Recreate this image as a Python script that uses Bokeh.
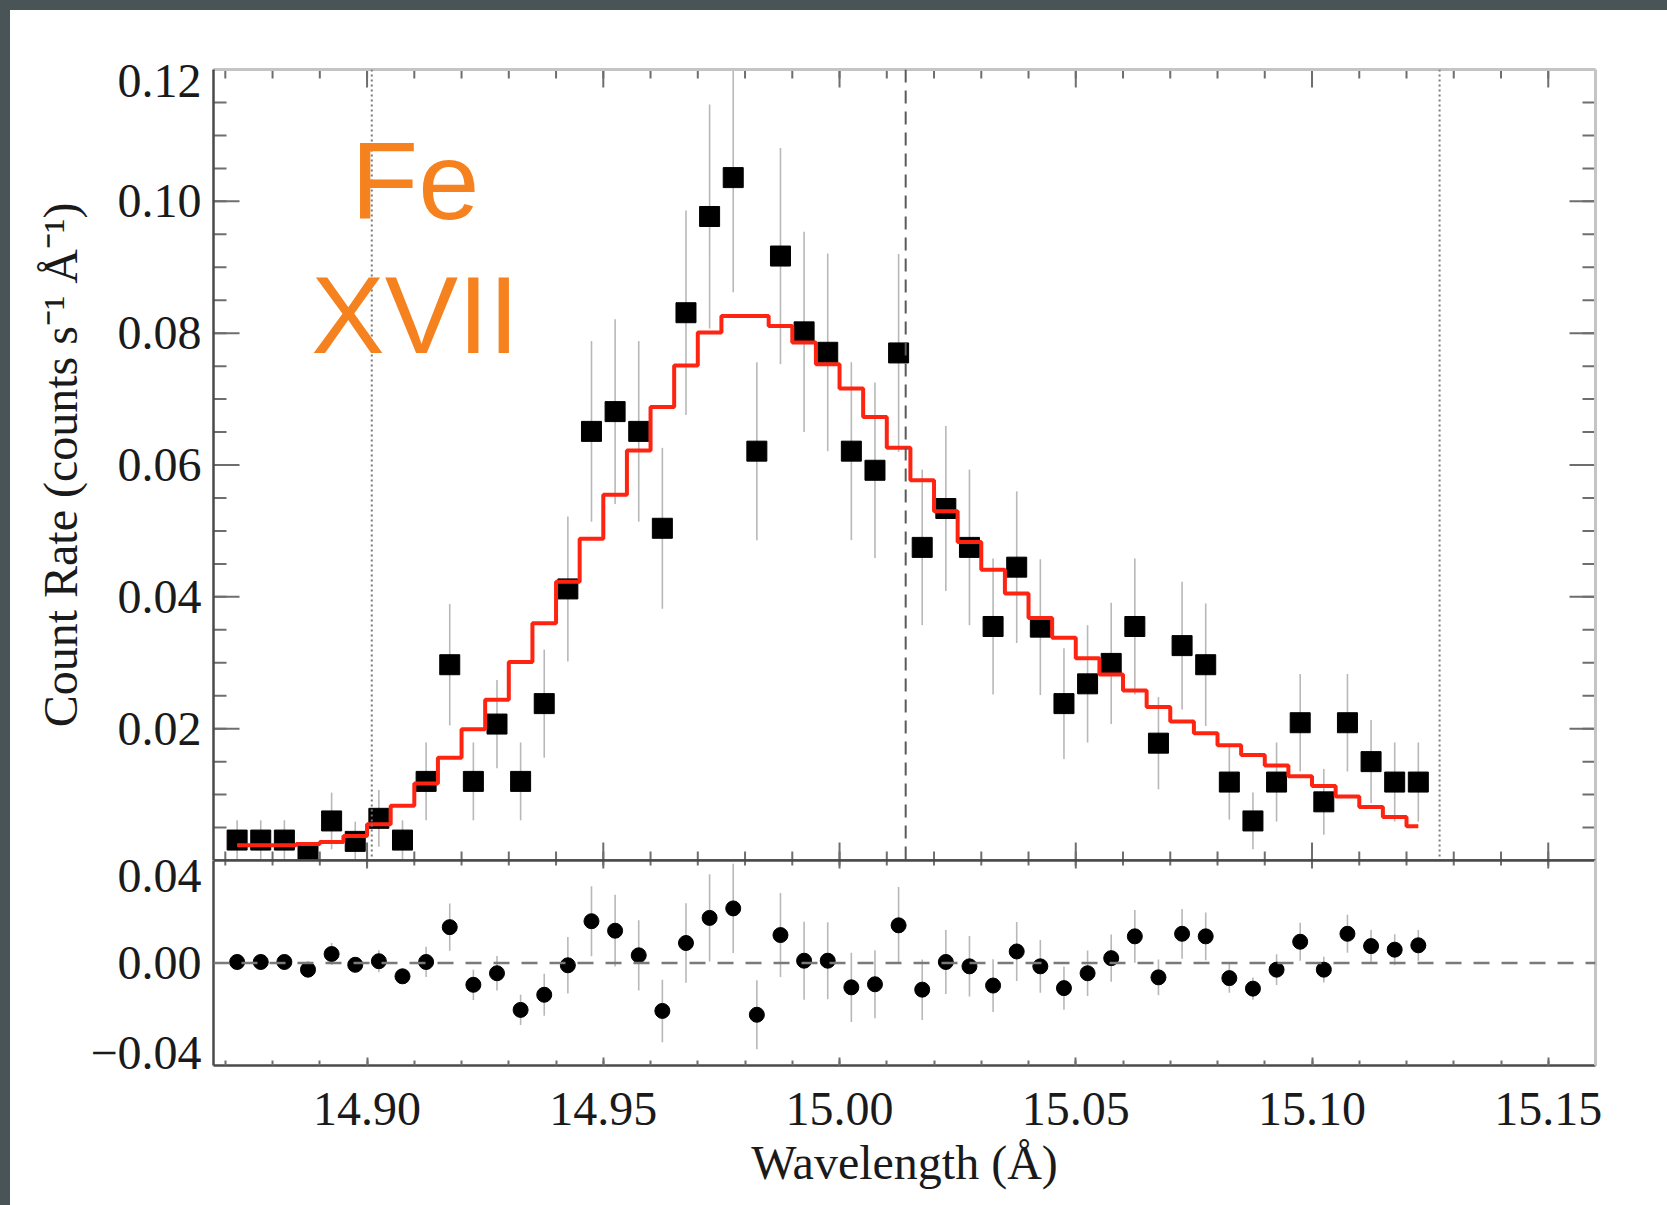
from bokeh.plotting import figure
from bokeh.models import Range1d, LinearAxis, FixedTicker, Span, Label, PrintfTickFormatter
from bokeh.layouts import column
from bokeh.embed import file_html
from bokeh.resources import INLINE

# ---------------- data ----------------
wavelength = [14.8725, 14.8775, 14.8825, 14.8875, 14.8925, 14.8975, 14.9025, 14.9075,
              14.9125, 14.9175, 14.9225, 14.9275, 14.9325, 14.9375, 14.9425, 14.9475,
              14.9525, 14.9575, 14.9625, 14.9675, 14.9725, 14.9775, 14.9825, 14.9875,
              14.9925, 14.9975, 15.0025, 15.0075, 15.0125, 15.0175, 15.0225, 15.0275,
              15.0325, 15.0375, 15.0425, 15.0475, 15.0525, 15.0575, 15.0625, 15.0675,
              15.0725, 15.0775, 15.0825, 15.0875, 15.0925, 15.0975, 15.1025, 15.1075,
              15.1125, 15.1175, 15.1225]

count_rate = [0.0031, 0.0031, 0.0031, 0.0010, 0.0060, 0.0029, 0.0064, 0.0031, 0.0120, 0.0297,
              0.0120, 0.0207, 0.0120, 0.0238, 0.0412, 0.0651, 0.0681, 0.0651, 0.0504, 0.0831,
              0.0977, 0.1036, 0.0621, 0.0917, 0.0802, 0.0771, 0.0621, 0.0592, 0.0770, 0.0475,
              0.0534, 0.0475, 0.0355, 0.0445, 0.0354, 0.0238, 0.0268, 0.0299, 0.0355, 0.0178,
              0.0326, 0.0297, 0.0119, 0.0060, 0.0119, 0.0209, 0.0089, 0.0209, 0.0150, 0.0119,
              0.0119]

count_err = [0.0030, 0.0030, 0.0030, 0.0018, 0.0043, 0.0030, 0.0043, 0.0030, 0.0059, 0.0092,
             0.0059, 0.0067, 0.0059, 0.0082, 0.0110, 0.0137, 0.0140, 0.0137, 0.0122, 0.0155,
             0.0170, 0.0174, 0.0135, 0.0164, 0.0152, 0.0150, 0.0135, 0.0133, 0.0150, 0.0118,
             0.0125, 0.0118, 0.0103, 0.0115, 0.0103, 0.0084, 0.0089, 0.0092, 0.0103, 0.0070,
             0.0097, 0.0093, 0.0057, 0.0043, 0.0060, 0.0074, 0.0050, 0.0074, 0.0063, 0.0060,
             0.0060]

model_rate = [0.0023, 0.0023, 0.0023, 0.0025, 0.0028, 0.0037, 0.0055, 0.0083, 0.0117, 0.0156,
              0.0199, 0.0244, 0.0301, 0.0360, 0.0423, 0.0488, 0.0555, 0.0622, 0.0688, 0.0751,
              0.0801, 0.0826, 0.0826, 0.0811, 0.0786, 0.0753, 0.0716, 0.0673, 0.0626, 0.0577,
              0.0530, 0.0483, 0.0441, 0.0405, 0.0368, 0.0338, 0.0307, 0.0282, 0.0258, 0.0233,
              0.0211, 0.0193, 0.0175, 0.0160, 0.0144, 0.0128, 0.0113, 0.0097, 0.0081, 0.0066,
              0.0052]

residual = [0.0004, 0.0004, 0.0004, -0.0026, 0.0035, -0.0007, 0.0007, -0.0052, 0.0004, 0.0140,
            -0.0085, -0.0040, -0.0183, -0.0124, -0.0009, 0.0163, 0.0126, 0.0030, -0.0187, 0.0078,
            0.0176, 0.0213, -0.0202, 0.0109, 0.0009, 0.0009, -0.0095, -0.0083, 0.0147, -0.0104,
            0.0004, -0.0013, -0.0088, 0.0045, -0.0013, -0.0098, -0.0040, 0.0019, 0.0104, -0.0056,
            0.0114, 0.0104, -0.0059, -0.0100, -0.0026, 0.0083, -0.0026, 0.0114, 0.0066, 0.0052,
            0.0069]

residual_err = count_err

line_rest = 15.014               # dashed line
window_edges = [14.901, 15.127]  # dotted lines

x_limits = (14.8675, 15.160)
rate_limits = (0.0, 0.12)
resid_limits = (-0.04, 0.04)

x_major = [14.90, 14.95, 15.00, 15.05, 15.10, 15.15]
x_minor = [round(14.87 + 0.01 * i, 2) for i in range(30)]
rate_major = [0.02, 0.04, 0.06, 0.08, 0.10]
rate_minor = [round(0.005 * i, 3) for i in range(1, 24)]
rate_top_label = "0.12"
resid_labels = ["\u22120.04", "0.00", "0.04"]

# ---------------- styling ----------------
SERIF = "Liberation Serif"
TICK_FS = "48px"
TXT = "#1a1a1a"
DARK = "#4a4a4a"
LIGHT = "#c4c4c4"
TICKC = "#6e6e6e"
UP_FRAME_H = 791
LO_FRAME_H = 205
OVERLAP = 22               # lower canvas reaches this far over the upper one (transparent)
TOP_LAB_INSET = 12         # px the extreme labels sit inside the frame, as in the original
RES_LAB_INSET_TOP = 16
RES_LAB_INSET_BOT = 12

rate_lo = [v - e for v, e in zip(count_rate, count_err)]
rate_hi = [v + e for v, e in zip(count_rate, count_err)]
res_lo = [v - e for v, e in zip(residual, residual_err)]
res_hi = [v + e for v, e in zip(residual, residual_err)]


def line_axis(color, width):
    """An axis that only draws its line (no ticks, no labels)."""
    return LinearAxis(ticker=FixedTicker(ticks=[], minor_ticks=[]),
                      axis_line_color=color, axis_line_width=width,
                      major_tick_line_color=None, minor_tick_line_color=None)


def tick_rays(p, pos, at, length, angle, vertical_ticks):
    if vertical_ticks:
        xs, ys = pos, [at] * len(pos)
    else:
        xs, ys = [at] * len(pos), pos
    p.ray(x=xs, y=ys, length=length, angle=angle, angle_units="deg",
          length_units="screen", line_color=TICKC, line_width=2)


# ---------------- upper panel ----------------
p1 = figure(width=1657, height=850, x_range=Range1d(*x_limits), y_range=Range1d(*rate_limits),
            output_backend="svg", toolbar_location=None,
            x_axis_location=None, y_axis_location=None,
            min_border_left=203, min_border_right=72, min_border_top=59, min_border_bottom=0,
            background_fill_color="white", border_fill_color="white", outline_line_color=None)
p1.grid.visible = False

span_rate = rate_limits[1] - rate_limits[0]
top_lab_pos = round(rate_limits[1] - TOP_LAB_INSET / UP_FRAME_H * span_rate, 4)
left1 = LinearAxis(ticker=FixedTicker(ticks=rate_major + [top_lab_pos], minor_ticks=[]),
                   formatter=PrintfTickFormatter(format="%.2f"),
                   major_label_overrides={top_lab_pos: rate_top_label},
                   major_tick_in=0, major_tick_out=0,
                   major_tick_line_color=None, minor_tick_line_color=None,
                   axis_line_color=DARK, axis_line_width=2.5,
                   major_label_text_font=SERIF, major_label_text_font_size=TICK_FS,
                   major_label_text_color=TXT, major_label_standoff=12,
                   axis_label="Count Rate (counts s\u207b\u00b9 \u00c5\u207b\u00b9)",
                   axis_label_text_font=SERIF, axis_label_text_font_size="48px",
                   axis_label_text_font_style="normal", axis_label_text_color=TXT,
                   axis_label_standoff=28)
p1.add_layout(left1, "left")
p1.add_layout(line_axis(LIGHT, 3), "right")
p1.add_layout(line_axis(LIGHT, 3), "above")
p1.add_layout(line_axis(DARK, 2.5), "below")

# inward ticks on all four sides
tick_rays(p1, x_major, rate_limits[1], 18, -90, True)
tick_rays(p1, x_minor, rate_limits[1], 9, -90, True)
tick_rays(p1, x_major, rate_limits[0], 18, 90, True)
tick_rays(p1, x_minor, rate_limits[0], 9, 90, True)
tick_rays(p1, rate_major, x_limits[1], 26, 180, False)
tick_rays(p1, rate_minor, x_limits[1], 13, 180, False)
tick_rays(p1, rate_major, x_limits[0], 26, 0, False)
tick_rays(p1, rate_minor, x_limits[0], 13, 0, False)

for loc in window_edges:
    p1.add_layout(Span(location=loc, dimension="height", line_color="#7a7a7a",
                       line_width=2, line_dash="2 3"))
p1.add_layout(Span(location=line_rest, dimension="height", line_color="#5a5a5a",
                   line_width=2, line_dash="13 8"))

p1.segment(x0=wavelength, y0=rate_lo, x1=wavelength, y1=rate_hi,
           line_color="#b8b8b8", line_width=1.6)
p1.scatter(wavelength, count_rate, marker="square", size=20, fill_color="black", line_color="black")
p1.step(wavelength, model_rate, mode="center", line_color="#ff2412", line_width=4)

p1.add_layout(Label(x=14.9102, y=0.1031, text="Fe", text_align="center", text_baseline="alphabetic",
                    text_font="Liberation Sans", text_font_size="110px", text_color="#f5821f"))
p1.add_layout(Label(x=14.9102, y=0.0829, text="XVII", text_align="center", text_baseline="alphabetic",
                    text_font="Liberation Sans", text_font_size="110px", text_color="#f5821f"))

# ---------------- lower panel ----------------
p2 = figure(width=1657, height=345 + OVERLAP, x_range=p1.x_range, y_range=Range1d(*resid_limits),
            output_backend="svg", toolbar_location=None,
            x_axis_location=None, y_axis_location=None,
            min_border_left=203, min_border_right=72, min_border_top=OVERLAP, min_border_bottom=140,
            background_fill_color="white", border_fill_color="white", border_fill_alpha=0.0,
            outline_line_color=None, margin=(-OVERLAP, 0, 0, 0))
p2.grid.visible = False

bottom2 = LinearAxis(ticker=FixedTicker(ticks=x_major, minor_ticks=x_minor),
                     formatter=PrintfTickFormatter(format="%.2f"),
                     major_tick_in=8, major_tick_out=0, minor_tick_in=5, minor_tick_out=0,
                     major_tick_line_color=TICKC, minor_tick_line_color=TICKC,
                     major_tick_line_width=2, minor_tick_line_width=2,
                     axis_line_color=DARK, axis_line_width=2.5,
                     major_label_text_font=SERIF, major_label_text_font_size=TICK_FS,
                     major_label_text_color=TXT, major_label_standoff=27,
                     axis_label="Wavelength (\u00c5)",
                     axis_label_text_font=SERIF, axis_label_text_font_size="48px",
                     axis_label_text_font_style="normal", axis_label_text_color=TXT,
                     axis_label_standoff=8)
p2.add_layout(bottom2, "below")

# the extreme residual labels are drawn just inside the panel, as in the original
span_res = resid_limits[1] - resid_limits[0]
lab_top = round(resid_limits[1] - RES_LAB_INSET_TOP / LO_FRAME_H * span_res, 4)
lab_bot = round(resid_limits[0] + RES_LAB_INSET_BOT / LO_FRAME_H * span_res, 4)
resid_tick_pos = [lab_bot, 0, lab_top]
left2 = LinearAxis(ticker=FixedTicker(ticks=resid_tick_pos, minor_ticks=[]),
                   major_label_overrides=dict(zip(resid_tick_pos, resid_labels)),
                   major_tick_in=0, major_tick_out=0, major_tick_line_color=None,
                   minor_tick_line_color=None,
                   axis_line_color=DARK, axis_line_width=2.5,
                   major_label_text_font=SERIF, major_label_text_font_size=TICK_FS,
                   major_label_text_color=TXT, major_label_standoff=12)
p2.add_layout(left2, "left")
p2.add_layout(line_axis(LIGHT, 3), "right")
p2.add_layout(line_axis(DARK, 2.5), "above")
tick_rays(p2, x_major, resid_limits[1], 8, -90, True)
tick_rays(p2, x_minor, resid_limits[1], 5, -90, True)

p2.add_layout(Span(location=0, dimension="width", line_color="#7a7a7a", line_width=2.5, line_dash="16 12"))
p2.segment(x0=wavelength, y0=res_lo, x1=wavelength, y1=res_hi, line_color="#b8b8b8", line_width=1.6)
p2.scatter(wavelength, residual, marker="circle", size=15, fill_color="black", line_color="black")

layout = column(p1, p2, margin=(10, 0, 0, 10), spacing=0,
                styles={"background-color": "white"})

html = file_html(layout, INLINE, title="Fe XVII line profile")
html = html.replace("</head>",
                    "<style>html, body { margin: 0; padding: 0; background-color: #485456; }</style></head>", 1)
open("out.html", "w").write(html)
